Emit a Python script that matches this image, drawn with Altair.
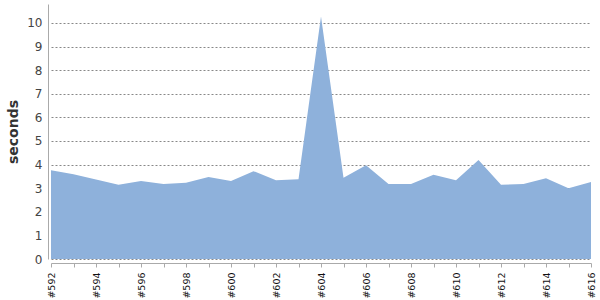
import altair as alt
import pandas as pd

builds = list(range(592, 617))
seconds = [3.76, 3.59, 3.37, 3.14, 3.30, 3.18, 3.23, 3.47, 3.30, 3.72,
           3.34, 3.38, 10.27, 3.44, 3.97, 3.18, 3.18, 3.57, 3.34, 4.19,
           3.14, 3.18, 3.42, 3.00, 3.26]
y_ticks = list(range(0, 11))

df = pd.DataFrame({"build": builds, "seconds": seconds})

chart = alt.Chart(df).mark_area(color="#8EB1DB", opacity=1, interpolate="linear").encode(
    x=alt.X("build:Q",
            scale=alt.Scale(domain=[592, 616], nice=False, zero=False),
            axis=alt.Axis(values=builds, title=None, grid=False,
                          labelAngle=-90, labelFontSize=9.5, labelFont="DejaVu Sans",
                          labelColor="#111111", labelPadding=5,
                          labelExpr="datum.value % 2 == 0 ? '#' + datum.value : ''",
                          tickSize=4, tickColor="#aaaaaa", domainColor="#aaaaaa",
                          offset=4, labelFlush=False, labelOverlap=False)),
    y=alt.Y("seconds:Q",
            scale=alt.Scale(domain=[0, 10.8], nice=False),
            axis=alt.Axis(values=y_ticks, title="seconds", titleFontSize=14,
                          titleFont="DejaVu Sans", titleFontWeight="bold",
                          titleColor="#333333", titlePadding=6,
                          labelFontSize=12, labelFont="DejaVu Sans", labelColor="#444444",
                          labelPadding=6, ticks=False, domainColor="#aaaaaa",
                          grid=True, gridDash=[2, 2], gridColor="#888888",
                          offset=3, labelFlush=False)),
).properties(
    width=540, height=255,
    autosize=alt.AutoSizeParams(type="none"),
    padding={"left": 51, "top": 4, "right": 9, "bottom": 41},
).configure_view(stroke=None)

chart.save("out.html", embed_options={"renderer": "svg", "actions": False})
